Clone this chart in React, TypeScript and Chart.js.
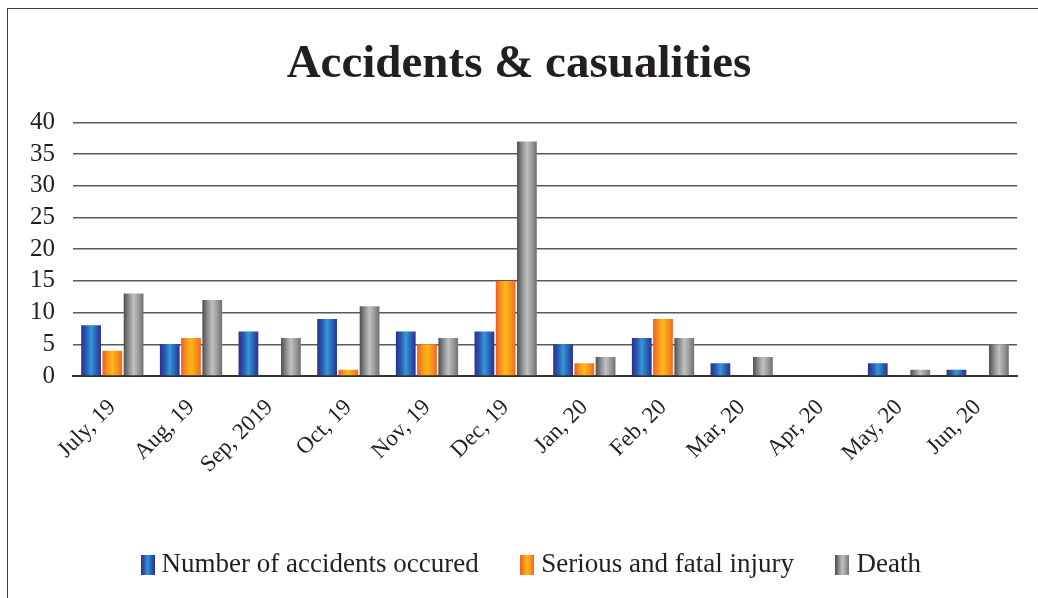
import React, { useEffect, useRef } from 'react';
import { Chart, registerables } from 'chart.js';

Chart.register(...registerables);

const months = ['July, 19', 'Aug, 19', 'Sep, 2019', 'Oct, 19', 'Nov, 19', 'Dec, 19', 'Jan, 20', 'Feb, 20', 'Mar, 20', 'Apr, 20', 'May, 20', 'Jun, 20'];
const accidents = [8, 5, 7, 9, 7, 7, 5, 6, 2, 0, 2, 1];
const injuries = [4, 6, 0, 1, 5, 15, 2, 9, 0, 0, 0, 0];
const deaths = [13, 12, 6, 11, 6, 37, 3, 6, 3, 0, 1, 5];
const seriesNames = ['Number of accidents occured', 'Serious and fatal injury', 'Death'];
const yMin = 0;
const yMax = 40;
const yStep = 5;

const gradientStops: string[][] = [
  ['#2b2f8f', '#2a57b0', '#3399d8', '#2a62b6', '#2b2f8f'],
  ['#f15a24', '#f7931e', '#fdb913', '#f7941d', '#f26522'],
  ['#4d4d4f', '#8a8b8d', '#c0c1c3', '#9a9b9d', '#6d6e70'],
];
const solid = ['#2b5fb0', '#f7931e', '#8a8b8d'];

const CAT_PCT = 0.81;
const BAR_PCT = 0.93;
const FONT = "'Liberation Serif', 'Times New Roman', serif";
const TEXT = '#231f20';

function makeGradient(ctx: CanvasRenderingContext2D, x0: number, x1: number, stops: string[]) {
  const g = ctx.createLinearGradient(x0, 0, x1, 0);
  stops.forEach((c, i) => g.addColorStop(i / (stops.length - 1), c));
  return g;
}

function legendImage(stops: string[]) {
  const c = document.createElement('canvas');
  c.width = 14;
  c.height = 20;
  const cx = c.getContext('2d')!;
  cx.fillStyle = makeGradient(cx, 0, 14, stops);
  cx.fillRect(0, 0, 14, 20);
  return c;
}

const legendShift = {
  id: 'legendShift',
  afterLayout(chart: any) {
    const lg = chart.legend;
    if (lg) {
      lg.left += 15;
      lg.right += 15;
    }
  },
};

export default function App() {
  const ref = useRef<HTMLCanvasElement>(null);

  useEffect(() => {
    if (!ref.current) return;
    const barColor = (dsIndex: number) => (context: any) => {
      if (context.type !== 'data') return solid[dsIndex];
      const chart = context.chart;
      const xs = chart.scales && chart.scales.x;
      if (!xs || !chart.chartArea) return solid[dsIndex];
      const center = xs.getPixelForValue(context.dataIndex);
      const catW = xs.width / months.length;
      const group = catW * CAT_PCT;
      const slot = group / 3;
      const w = slot * BAR_PCT;
      const left = center - group / 2 + slot * dsIndex + (slot - w) / 2;
      return makeGradient(chart.ctx, left, left + w, gradientStops[dsIndex]);
    };
    const series = [accidents, injuries, deaths];
    const imgs = gradientStops.map(legendImage);

    const chart = new Chart(ref.current, {
      type: 'bar',
      data: {
        labels: months,
        datasets: series.map((d, i) => ({
          label: seriesNames[i],
          data: d,
          backgroundColor: barColor(i),
          borderWidth: 0,
          categoryPercentage: CAT_PCT,
          barPercentage: BAR_PCT,
        })),
      },
      plugins: [legendShift],
      options: {
        animation: false,
        responsive: true,
        maintainAspectRatio: false,
        layout: { padding: { left: 21, right: 21, top: 0, bottom: 10 } },
        plugins: {
          tooltip: { enabled: false },
          title: {
            display: true,
            text: 'Accidents & casualities',
            color: TEXT,
            font: { family: FONT, size: 47, weight: 'bold' },
            padding: { top: 37, bottom: 29 },
          },
          legend: {
            position: 'bottom',
            labels: {
              color: TEXT,
              font: { family: FONT, size: 27 },
              usePointStyle: true,
              pointStyleWidth: 1,
              padding: 48,
              generateLabels: (ch: any) =>
                ch.data.datasets.map((ds: any, i: number) => ({
                  text: ds.label,
                  fillStyle: solid[i],
                  strokeStyle: 'rgba(0,0,0,0)',
                  lineWidth: 0,
                  pointStyle: imgs[i],
                  hidden: false,
                  datasetIndex: i,
                  fontColor: TEXT,
                })),
            },
          },
        },
        scales: {
          x: {
            grid: { display: false },
            border: { display: true, color: '#333333', width: 2 },
            ticks: {
              color: TEXT,
              font: { family: FONT, size: 23 },
              minRotation: 45,
              maxRotation: 45,
              autoSkip: false,
              padding: 10,
            },
            afterFit: (s: any) => {
              s.height = 127;
            },
          },
          y: {
            min: yMin,
            max: yMax,
            grid: { color: '#5a5a5a', lineWidth: 1.5, drawTicks: false },
            border: { display: false },
            ticks: {
              stepSize: yStep,
              autoSkip: false,
              color: TEXT,
              font: { family: FONT, size: 25 },
              padding: 18,
            },
            afterFit: (s: any) => {
              s.width = 52;
            },
          },
        },
      },
    });
    return () => chart.destroy();
  }, []);

  return (
    <div style={{ position: 'fixed', left: 0, top: 0, width: 1038, height: 598, overflow: 'hidden', background: '#fff' }}>
      <div
        style={{
          position: 'absolute',
          left: 7,
          top: 8,
          width: 1100,
          height: 700,
          borderLeft: '1.5px solid #3a3a3a',
          borderTop: '1.5px solid #3a3a3a',
        }}
      />
      <div style={{ position: 'absolute', left: 0, top: 0, width: 1038, height: 598 }}>
        <canvas ref={ref} />
      </div>
    </div>
  );
}
